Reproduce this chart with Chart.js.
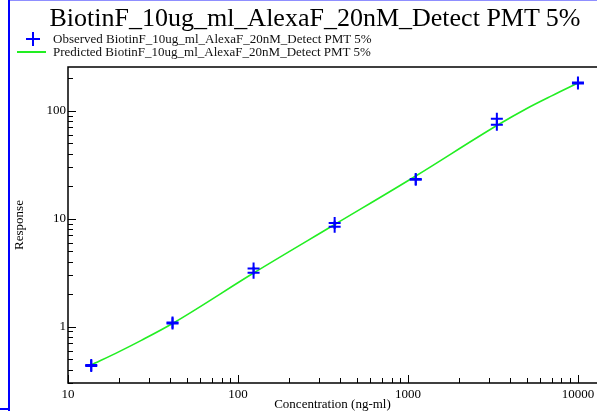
<!DOCTYPE html>
<html>
<head>
<meta charset="utf-8">
<script src="https://cdn.jsdelivr.net/npm/chart.js@4/dist/chart.umd.min.js"></script>
<style>
html,body{margin:0;padding:0;background:#fff;overflow:hidden;}
#wrap{position:relative;width:597px;height:411px;overflow:hidden;font-family:"Liberation Serif","Times New Roman",serif;color:#000;}
#c{position:absolute;left:0;top:0;}
#title{position:absolute;left:0;width:630px;top:5px;text-align:center;font-size:26px;line-height:26px;white-space:nowrap;}
.leg{position:absolute;left:53px;font-size:13px;line-height:13px;white-space:nowrap;color:#111;}
#legPlus{position:absolute;left:26px;top:32px;width:14px;height:14px;}
#legPlus:before{content:"";position:absolute;left:6px;top:0;width:2px;height:14px;background:#0000ff;}
#legPlus:after{content:"";position:absolute;left:0;top:6px;width:14px;height:2px;background:#0000ff;}
#legLine{position:absolute;left:17px;top:51px;width:29px;height:2px;background:#22ee22;}
#bTop{position:absolute;left:8px;top:0;width:600px;height:1px;background:#8f8fff;}
#bLeft{position:absolute;left:8px;top:0;width:2px;height:411px;background:#0000ff;}
#bBot{position:absolute;left:0;top:408px;width:10px;height:2px;background:#0000ff;}
#xt{position:absolute;left:68px;width:529px;top:397px;text-align:center;font-size:13px;line-height:13px;white-space:nowrap;}
</style>
</head>
<body>
<div id="wrap">
<canvas id="c" width="620" height="411"></canvas>
<div id="bTop"></div><div id="bLeft"></div><div id="bBot"></div>
<div id="title">BiotinF_10ug_ml_AlexaF_20nM_Detect PMT 5%</div>
<div id="legPlus"></div>
<div class="leg" style="top:32px;">Observed BiotinF_10ug_ml_AlexaF_20nM_Detect PMT 5%</div>
<div id="legLine"></div>
<div class="leg" style="top:45px;">Predicted BiotinF_10ug_ml_AlexaF_20nM_Detect PMT 5%</div>
<div id="xt">Concentration (ng-ml)</div>
</div>
<script>
// Observed concentrations (ng-ml), two replicates each
const concentrations = [13.7, 41.2, 123.5, 370.4, 1111, 3333, 10000];
const observedRep1   = [0.44, 1.09, 3.45, 9.1, 23.3, 84, 182];
const observedRep2   = [0.43, 1.07, 3.15, 8.4, 22.9, 74, 178];
// Predicted curve
const predictedConc = [13.7, 20, 27, 41.2, 123.5, 370.4, 1111, 3333, 5000, 7000, 10000];
const predictedResp = [0.44, 0.586, 0.745, 1.067, 3.13, 8.81, 24.8, 72.8, 104.7, 137, 180];
// Axis ticks / ranges
const xTickValues = [10, 100, 1000, 10000];
const yTickValues = [1, 10, 100];
const xRange = [10, 12940];
const yRange = [0.32, 253.6];

const obsPoints = [];
concentrations.forEach((c, i) => {
  obsPoints.push({x: c, y: observedRep1[i]});
  obsPoints.push({x: c, y: observedRep2[i]});
});
const predPoints = predictedConc.map((c, i) => ({x: c, y: predictedResp[i]}));

const frameAndTicks = {
  id: 'frameAndTicks',
  afterDatasetsDraw(chart) {
    const {ctx, chartArea: a, scales: {x, y}} = chart;
    ctx.save();
    ctx.strokeStyle = '#000';
    ctx.lineWidth = 1;
    const drawTicks = (scale, horizontal) => {
      const lo = Math.floor(Math.log10(scale.min)), hi = Math.ceil(Math.log10(scale.max));
      for (let d = lo; d <= hi; d++) {
        for (let m = 1; m <= 9; m++) {
          const v = m * Math.pow(10, d);
          if (v < scale.min * 0.9999 || v > scale.max) continue;
          const p = Math.round(scale.getPixelForValue(v)) + 0.5;
          const len = m === 1 ? 8 : 5;
          ctx.beginPath();
          if (horizontal) { ctx.moveTo(p, a.bottom); ctx.lineTo(p, a.bottom - len); }
          else { ctx.moveTo(a.left, p); ctx.lineTo(a.left + len, p); }
          ctx.stroke();
        }
      }
    };
    drawTicks(x, true);
    drawTicks(y, false);
    ctx.lineWidth = 1.5;
    ctx.beginPath();
    ctx.moveTo(a.right + 2, a.top);
    ctx.lineTo(a.left, a.top);
    ctx.lineTo(a.left, a.bottom);
    ctx.lineTo(a.right + 2, a.bottom);
    ctx.stroke();
    ctx.restore();
  }
};

const fontFamily = '"Liberation Serif","Times New Roman",serif';

new Chart(document.getElementById('c'), {
  type: 'scatter',
  data: {
    datasets: [
      {
        label: 'Observed BiotinF_10ug_ml_AlexaF_20nM_Detect PMT 5%',
        data: obsPoints,
        showLine: false,
        pointStyle: 'cross',
        pointRadius: 6,
        pointBorderWidth: 2,
        pointBorderColor: '#0000ff',
        pointBackgroundColor: '#0000ff',
        order: 0
      },
      {
        label: 'Predicted BiotinF_10ug_ml_AlexaF_20nM_Detect PMT 5%',
        data: predPoints,
        showLine: true,
        borderColor: '#22ee22',
        borderWidth: 1.6,
        pointRadius: 0,
        cubicInterpolationMode: 'monotone',
        fill: false,
        order: 1
      }
    ]
  },
  options: {
    responsive: false,
    animation: false,
    layout: {padding: {top: 67, right: 23, left: 0, bottom: 0}},
    plugins: {legend: {display: false}, title: {display: false}, tooltip: {enabled: false}},
    scales: {
      x: {
        type: 'logarithmic',
        min: xRange[0], max: xRange[1],
        grid: {display: false, drawTicks: false},
        border: {display: false},
        afterBuildTicks: s => { s.ticks = xTickValues.map(v => ({value: v})); },
        afterFit: s => { s.height = 28; },
        ticks: {color: '#000', padding: 4, maxRotation: 0, autoSkip: false,
                font: {family: fontFamily, size: 13}, callback: v => String(v)}
      },
      y: {
        type: 'logarithmic',
        min: yRange[0], max: yRange[1],
        grid: {display: false, drawTicks: false},
        border: {display: false},
        afterBuildTicks: s => { s.ticks = yTickValues.map(v => ({value: v})); },
        afterFit: s => { s.width = 68; },
        ticks: {color: '#000', padding: 2, autoSkip: false,
                font: {family: fontFamily, size: 13}, callback: v => String(v)},
        title: {display: true, text: 'Response', color: '#000', padding: {top: 12, bottom: 0},
                font: {family: fontFamily, size: 13}}
      }
    }
  },
  plugins: [frameAndTicks]
});
</script>
</body>
</html>
